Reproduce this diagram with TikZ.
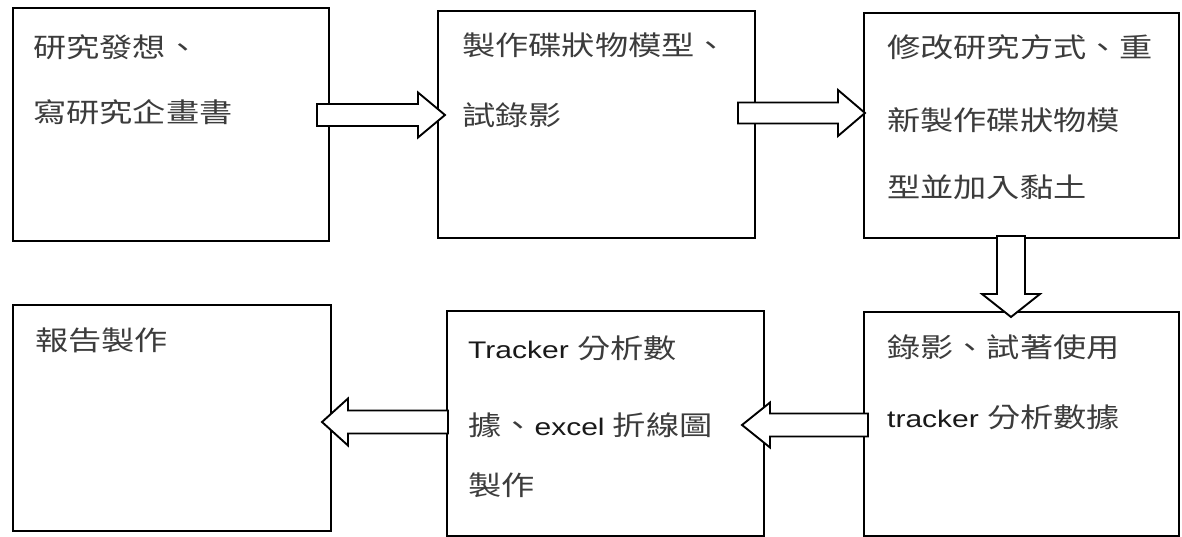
\documentclass[tikz,border=0pt]{standalone}
\usepackage{fontspec}
\setmainfont[FakeStretch=1.25]{Liberation Sans}
\newfontfamily\cjkfont[FakeStretch=1.23]{Noto Sans CJK TC}
\usetikzlibrary{calc}
\definecolor{cjkgray}{RGB}{60,60,60}
\definecolor{latgray}{RGB}{25,25,25}
\newcommand\zh[1]{{\cjkfont\fontsize{27pt}{30pt}\selectfont\color{cjkgray}#1}}
\newcommand\blockarrow[5]{% start, tip, shaft half width, head half width, head length
  \coordinate (ba-b) at ($(#2)!#5!(#1)$);
  \draw[barrow] ($(#1)!#3!90:(#2)$) -- ($(ba-b)!#3!90:(#2)$) -- ($(ba-b)!#4!90:(#2)$)
    -- (#2) -- ($(ba-b)!#4!-90:(#2)$) -- ($(ba-b)!#3!-90:(#2)$) -- ($(#1)!#3!-90:(#2)$) -- cycle;}
\begin{document}
\begin{tikzpicture}[x=1pt,y=-1pt,
  box/.style={draw=black, line width=1.9pt, fill=white, inner sep=0pt, anchor=north west},
  txt/.style={anchor=west, inner sep=0pt, text=latgray, font=\fontsize{24pt}{30pt}\selectfont},
  barrow/.style={draw=black, line width=1.9pt, fill=white, line join=miter}]
\fill[white] (0,0) rectangle (1182,537);
\useasboundingbox (0,0) rectangle (1182,537);
% boxes
\node[box, minimum width=316pt, minimum height=233pt] (b1) at (12,7) {};
\node[box, minimum width=317pt, minimum height=227pt] (b2) at (437,10) {};
\node[box, minimum width=315pt, minimum height=225pt] (b3) at (863,12) {};
\node[box, minimum width=318pt, minimum height=226pt] (b6) at (12,304) {};
\node[box, minimum width=317pt, minimum height=225pt] (b4) at (446,310) {};
\node[box, minimum width=315pt, minimum height=224pt] (b5) at (863,311) {};
% texts
\node[txt] (t11) at (33,47) {\zh{研究發想、}};
\node[txt] (t12) at (33,112) {\zh{寫研究企畫書}};
\node[txt] (t21) at (462,45) {\zh{製作碟狀物模型、}};
\node[txt] (t22) at (462,115) {\zh{試錄影}};
\node[txt] (t31) at (887,47) {\zh{修改研究方式、重}};
\node[txt] (t32) at (887,120) {\zh{新製作碟狀物模}};
\node[txt] (t33) at (887,187) {\zh{型並加入黏土}};
\node[txt] (t51) at (887,347) {\zh{錄影、試著使用}};
\node[txt] (t52) at (887,417) {tracker \zh{分析數據}};
\node[txt] (t41) at (468,348) {Tracker \zh{分析數}};
\node[txt] (t42) at (468,425) {\zh{據、}excel \zh{折線圖}};
\node[txt] (t43) at (468,485) {\zh{製作}};
\node[txt] (t61) at (35,340) {\zh{報告製作}};
% arrow end points
\coordinate (a1s) at (317,115);  \coordinate (a1t) at (445,115);
\coordinate (a2s) at (738,113);  \coordinate (a2t) at (865,113);
\coordinate (a3s) at (1011,236); \coordinate (a3t) at (1011,317);
\coordinate (a4s) at (868,425);  \coordinate (a4t) at (742,425);
\coordinate (a5s) at (448,422);  \coordinate (a5t) at (322,422);
\blockarrow{a1s}{a1t}{11pt}{22.5pt}{27pt}
\blockarrow{a2s}{a2t}{10.5pt}{23pt}{27pt}
\blockarrow{a3s}{a3t}{14pt}{29pt}{23pt}
\blockarrow{a4s}{a4t}{11.5pt}{22.5pt}{28pt}
\blockarrow{a5s}{a5t}{11.5pt}{23.5pt}{26pt}
\end{tikzpicture}
\end{document}
